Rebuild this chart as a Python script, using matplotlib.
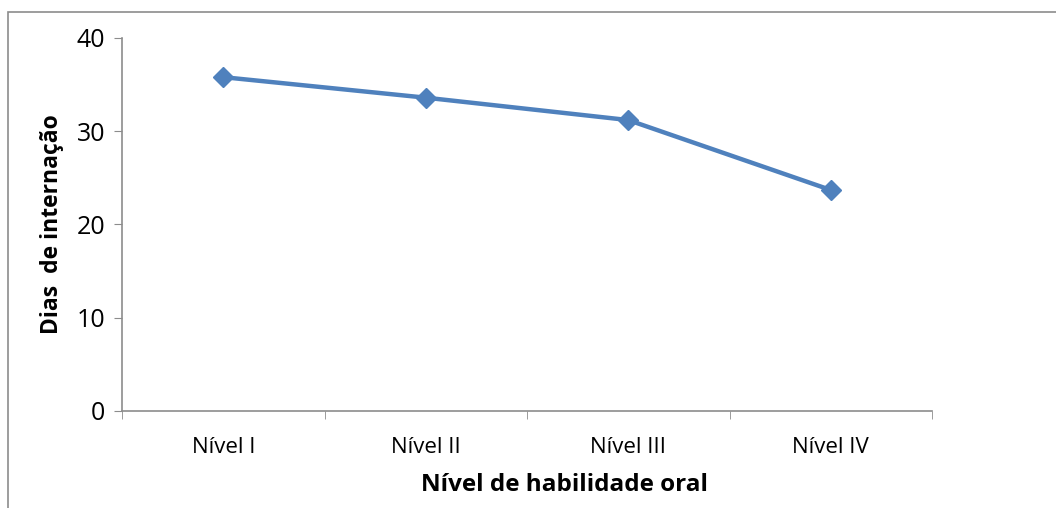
import matplotlib.pyplot as plt
from matplotlib.patches import Rectangle

niveis = ["Nível I", "Nível II", "Nível III", "Nível IV"]
dias = [35.8, 33.6, 31.2, 23.7]
y_ticks = [0, 10, 20, 30, 40]

plt.rcParams['font.family'] = ['Open Sans', 'DejaVu Sans']

fig = plt.figure(figsize=(10.56, 5.08), dpi=100)
ax = fig.add_axes([122 / 1056, 1 - 411 / 508, (932 - 122) / 1056, (411 - 38) / 508])

# outer chart border
fig.patches.append(Rectangle((8 / 1056, -0.1), 1.2, 1.1 - 12 / 508,
                             transform=fig.transFigure, fill=False,
                             edgecolor='#8c8c8c', linewidth=1.2))

x = range(len(niveis))
ax.plot(x, dias, color='#4F81BD', linewidth=3.2, marker='D', markersize=10,
        solid_capstyle='round')

ax.set_xlim(-0.5, len(niveis) - 0.5)
ax.set_ylim(0, 40)
ax.set_yticks(y_ticks)
ax.set_xticks(x)
ax.set_xticklabels(niveis, fontsize=16)
ax.set_xticks([i - 0.5 for i in range(len(niveis) + 1)], minor=True)
ax.tick_params(axis='x', which='major', length=0, pad=19)
ax.tick_params(axis='x', which='minor', length=6, color='#8c8c8c', direction='out')
ax.tick_params(axis='y', length=6, color='#8c8c8c', labelsize=18, pad=6)

for side in ['top', 'right']:
    ax.spines[side].set_visible(False)
for side in ['left', 'bottom']:
    ax.spines[side].set_color('#8c8c8c')
    ax.spines[side].set_linewidth(1.2)

ax.set_ylabel("Dias  de internação", fontsize=16.5, fontweight='bold', labelpad=9)
ax.set_xlabel("Nível de habilidade oral", fontsize=17.5, fontweight='bold', labelpad=8)
ax.xaxis.set_label_coords(0.546, -0.165)

fig.savefig("out.png", dpi=100)
